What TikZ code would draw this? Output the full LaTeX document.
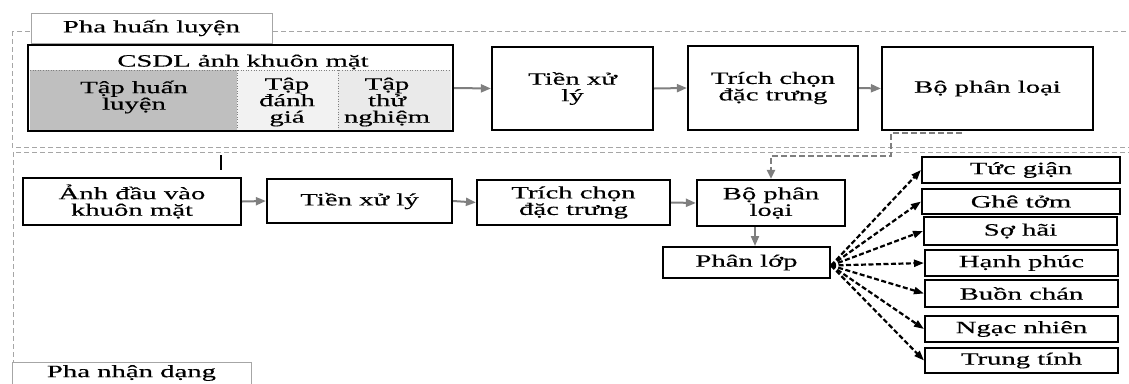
\documentclass[tikz,border=0pt]{standalone}
\usepackage{fontspec}
\setmainfont{Liberation Serif}[FakeStretch=1.66,FakeBold=0.4]
\usetikzlibrary{arrows.meta,calc}
\definecolor{cellA}{HTML}{BFBFBF}
\definecolor{cellB}{HTML}{F2F2F2}
\definecolor{cellC}{HTML}{EAEAEA}
\definecolor{framegray}{HTML}{A6A6A6}
\definecolor{arrgray}{HTML}{7F7F7F}
\begin{document}
\begin{tikzpicture}[x=1pt,y=-1pt,
  font=\fontsize{17.3}{16.5}\selectfont,
  box/.style={draw=black,line width=2.2pt,fill=white,align=center,inner sep=0pt},
  ebox/.style={draw=black,line width=2pt,fill=white,align=center,inner sep=0pt},
  lab/.style={draw=framegray,line width=0.8pt,fill=white,inner sep=0pt},
  frame/.style={draw=framegray,line width=0.9pt,dash pattern=on 5pt off 3pt},
  arr/.style={draw=arrgray,line width=2pt,-{Triangle[length=10pt,width=8pt]}},
  garr/.style={draw=arrgray,line width=2.2pt,dash pattern=on 6pt off 3pt,-{Triangle[length=9pt,width=8pt]}},
  darr/.style={draw=black,line width=2.2pt,dash pattern=on 5pt off 2.5pt,-{Triangle[length=10pt,width=7pt]}},
  cell/.style={draw=gray,line width=0.6pt,dotted}
]
\useasboundingbox (0,0) rectangle (1129,383);

% phase frames
\draw[frame] (12,31) rectangle (1145,147);
\draw[frame] (13,152) rectangle (1145,420);
\node[lab,minimum width=241pt,minimum height=30pt] (lab1) at (151.5,28) {Pha huấn luyện};
\node[lab,minimum width=239pt,minimum height=34pt] (lab2) at (131.5,379) {};
\node[inner sep=0pt] (lab2t) at (131.5,373) {Pha nhận dạng};

% CSDL box with cells
\fill[cellA] (30,70) rectangle (237,130);
\fill[cellB] (237,70) rectangle (338,130);
\fill[cellC] (338,70) rectangle (451,130);
\draw[cell] (30,70) -- (451,70);
\draw[cell] (237,70) -- (237,130);
\draw[cell] (338,70) -- (338,130);
\node[inner sep=0pt] (title) at (243,62) {CSDL ảnh khuôn mặt};
\node[inner sep=0pt,align=center] (s1) at (134,97) {Tập huấn\\luyện};
\node[inner sep=0pt,align=center] (s2) at (287,102) {Tập\\đánh\\giá};
\node[inner sep=0pt,align=center] (s3) at (387,102) {Tập\\thử\\nghiệm};
\node[draw=black,line width=2.4pt,minimum width=425pt,minimum height=86pt,inner sep=0pt] (csdl) at (240.5,88) {};

% training row
\node[box,minimum width=161pt,minimum height=83pt] (tx1) at (572.5,88.5) {Tiền xử\\lý};
\node[box,minimum width=170pt,minimum height=84pt] (tc1) at (773,88) {Trích chọn\\đặc trưng};
\node[box,minimum width=211pt,minimum height=83pt] (bp1) at (987.5,88.5) {Bộ phân loại};
\draw[arr] (csdl.east) -- (tx1.west);
\draw[arr] (tx1.east) -- (tc1.west);
\draw[arr] (tc1.east) -- (bp1.west);

% stray mark
\coordinate (m1) at (221,155);
\coordinate (m2) at (221,170);
\draw[black,line width=1.5pt] (m1) -- (m2);

% recognition row
\node[box,minimum width=218pt,minimum height=47pt] (in) at (132,201.5) {Ảnh đầu vào\\khuôn mặt};
\node[box,minimum width=185pt,minimum height=44pt] (tx2) at (359.5,201) {Tiền xử lý};
\node[box,minimum width=193pt,minimum height=45pt] (tc2) at (573.5,202.5) {Trích chọn\\đặc trưng};
\node[box,minimum width=148pt,minimum height=46pt] (bp2) at (771,203) {Bộ phân\\loại};
\node[box,line width=2pt,minimum width=167pt,minimum height=31pt] (pl) at (746.5,262.5) {Phân lớp};
\draw[arr] (in.east) -- (tx2.west);
\draw[arr] (tx2.east) -- (tc2.west);
\draw[arr] (tc2.east) -- (bp2.west);
\draw[arr] ([xshift=-16pt]bp2.south) -- ([xshift=-16pt]bp2.south |- pl.north);

% connector from trained classifier
\coordinate (c1) at ($(bp1.south west)+(81,2)$);
\draw[garr] (c1) -- ++(-71,0) -- ++(0,23) -| (bp2.north);

% emotions
\node[ebox,minimum width=198pt,minimum height=26pt] (e1) at (1021,170) {Tức giận};
\node[ebox,minimum width=198pt,minimum height=25pt] (e2) at (1021,201.5) {Ghê tởm};
\node[ebox,minimum width=193pt,minimum height=28pt] (e3) at (1020.5,231) {Sợ hãi};
\node[ebox,minimum width=193pt,minimum height=26pt] (e4) at (1021.5,263) {Hạnh phúc};
\node[ebox,minimum width=193pt,minimum height=27pt] (e5) at (1021.5,293.5) {Buồn chán};
\node[ebox,minimum width=193pt,minimum height=26pt] (e6) at (1021.5,329) {Ngạc nhiên};
\node[ebox,minimum width=193pt,minimum height=25pt] (e7) at (1021.5,360.5) {Trung tính};
\foreach \e in {e1,e2,e3,e4,e5,e6,e7}
  \draw[darr] ([yshift=-3pt]pl.east) -- (\e.west);
\end{tikzpicture}
\end{document}
